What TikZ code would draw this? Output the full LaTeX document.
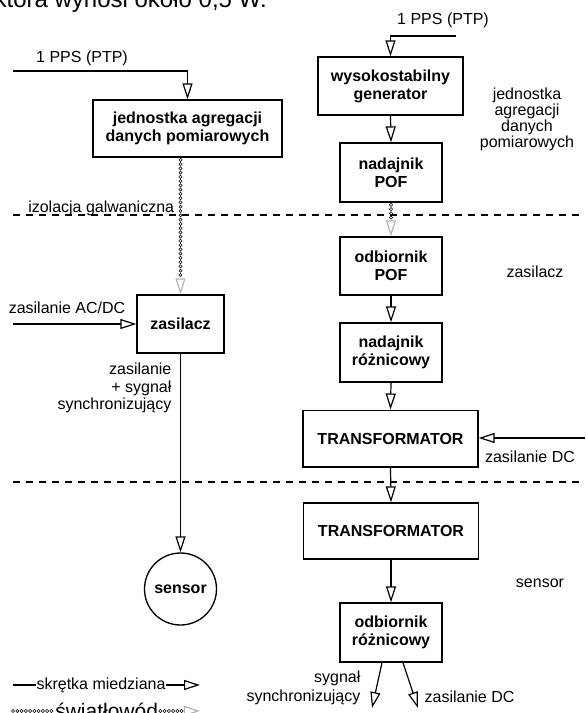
\documentclass[tikz,border=0pt]{standalone}
\usepackage{fontspec}
\setmainfont{Liberation Sans}
\usepackage{xcolor}
\usetikzlibrary{arrows.meta,decorations.markings}
\definecolor{fiberGray}{HTML}{B4B4B4}
\tikzset{
  font=\fontsize{12}{13.5}\selectfont,
  wire/.style={-{Triangle[open,length=12pt,width=7.5pt]}, draw=black, line width=0.9pt},
  plainWire/.style={draw=black, line width=0.9pt},
  fiberChain/.style={postaction={decorate}, decoration={markings,
      mark=between positions 0 and 1 step 3.2pt with {\draw[black, line width=0.4pt, fill=white] (0,0) circle (1.2pt);}}},
  fiber/.style={postaction={decorate}, decoration={markings,
      mark=between positions 1.6pt and -12.5pt step 3.2pt with {\draw[black, line width=0.4pt, fill=white] (0,0) circle (1.2pt);},
      mark=at position 1 with {\arrow[fiberGray, line width=0.9pt]{Triangle[open,length=12pt,width=7.5pt]}}}},
  boundary/.style={draw=black, line width=0.8pt, dash pattern=on 5.25pt off 4.5pt},
  block/.style={rectangle, draw=black, line width=1pt, fill=white, minimum width=76.5pt, minimum height=43.5pt, align=center, inner sep=2pt, font=\fontsize{12}{13.5}\selectfont\bfseries},
  wideBlock/.style={block, minimum width=131.25pt, minimum height=42.5pt},
  sensorNode/.style={circle, draw=black, line width=1pt, fill=white, minimum size=54pt, inner sep=0pt, font=\fontsize{12}{13.5}\selectfont\bfseries},
  sideText/.style={align=center, inner sep=1pt, font=\fontsize{12}{12}\selectfont},
  wireText/.style={inner sep=1pt, font=\fontsize{12}{13.5}\selectfont}
}
\begin{document}
\begin{tikzpicture}[x=0.75pt,y=-0.75pt]
\useasboundingbox (0,0) rectangle (585,713);

% --------------------------------------------------------------------------
% text of the page above the figure
% --------------------------------------------------------------------------
\node[anchor=base east, inner sep=0pt, font=\fontsize{18}{20}\selectfont] (pageLine) at (267,7.5) {która wynosi około 0,5 W.};

% --------------------------------------------------------------------------
% isolation boundaries
% --------------------------------------------------------------------------
\coordinate (isoTopL) at (13,215);
\coordinate (isoTopR) at (585,215);
\coordinate (isoBotL) at (13,482);
\coordinate (isoBotR) at (585,482);
\draw[boundary] (isoTopL) -- (isoTopR);
\draw[boundary] (isoBotL) -- (isoBotR);
\node[anchor=base west, inner sep=0pt] (isoText) at (28,212) {izolacja galwaniczna};

% --------------------------------------------------------------------------
% left column
% --------------------------------------------------------------------------
\node[block, minimum width=141.75pt, minimum height=42.75pt] (lAgg) at (187.5,128.5) {jednostka agregacji\\danych pomiarowych};
\node[block, minimum width=65.25pt] (lPsu) at (180.5,324) {zasilacz};
\node[sensorNode] (lSensor) at (180.5,589) {sensor};

\node[wireText] (lPpsText) at (82,58) {1 PPS (PTP)};
\coordinate (lPpsIn) at (13,71);
\draw[wire] (lPpsIn) -| (lAgg.north);

\path[fiber] (lPsu.north |- lAgg.south) -- (lPsu.north);

\node[wireText] (lAcText) at (67,308) {zasilanie AC/DC};
\coordinate (lAcIn) at (13,324);
\draw[wire] (lAcIn) -- (lPsu.west);

\draw[wire] (lPsu.south) -- (lSensor.north);
\node[sideText, align=right, anchor=east] (lSupText) at (173,388) {zasilanie\\[1pt]+ sygnał\\[1pt]synchronizujący};

% --------------------------------------------------------------------------
% right column
% --------------------------------------------------------------------------
\node[block, minimum width=108.75pt] (rGen) at (390.5,86) {wysokostabilny\\generator};
\node[block, minimum height=44.25pt] (rTxPof) at (391,172.5) {nadajnik\\POF};
\node[block] (rRxPof) at (391,266) {odbiornik\\POF};
\node[block, minimum height=44.25pt] (rTxDiff) at (391,352.5) {nadajnik\\różnicowy};
\node[wideBlock] (rTrafoA) at (390.5,438.5) {TRANSFORMATOR};
\node[wideBlock, minimum height=42pt] (rTrafoB) at (391,531) {TRANSFORMATOR};
\node[block, minimum height=44.25pt] (rRxDiff) at (391,632.5) {odbiornik\\różnicowy};

\node[wireText] (rPpsText) at (443,20) {1 PPS (PTP)};
\coordinate (rPpsIn) at (456,36);
\draw[wire] (rPpsIn) -| (rGen.north);

\draw[wire] (rGen.south) -- (rTxPof.north);
\path[fiber] (rTxPof.south) -- (rRxPof.north);
\draw[wire] (rRxPof.south) -- (rTxDiff.north);
\draw[wire] (rTxDiff.south) -- (rTrafoA.north);
\draw[wire] (rTrafoA.south) -- (rTrafoB.north);
\draw[wire] (rTrafoB.south) -- (rRxDiff.north);

\coordinate (rDcIn) at (585,438);
\draw[wire] (rDcIn) -- (rTrafoA.east |- rDcIn);
\node[wireText] (rDcText) at (530,457) {zasilanie DC};

% outputs of the differential receiver
\coordinate (rSyncOut) at (372,708);
\coordinate (rDcOut) at (418,708);
\draw[wire] ([xshift=-6.75pt]rRxDiff.south) -- (rSyncOut);
\draw[wire] ([xshift=9pt]rRxDiff.south) -- (rDcOut);
\node[sideText, align=right, anchor=east] (rSyncText) at (362,688) {sygnał\\[2pt]synchronizujący};
\node[wireText, anchor=west] (rDcOutText) at (423,697) {zasilanie DC};

% side captions
\node[sideText] (capAgg) at (527,119) {jednostka\\agregacji\\danych\\pomiarowych};
\node[sideText] (capPsu) at (535,272) {zasilacz};
\node[sideText] (capSensor) at (540,583) {sensor};

% --------------------------------------------------------------------------
% legend
% --------------------------------------------------------------------------
\node[wireText, inner sep=0.5pt] (lgCopper) at (101,685) {skrętka miedziana};
\coordinate (lgCopperA) at (13,685);
\coordinate (lgCopperB) at (200,685);
\draw[plainWire] (lgCopperA) -- (lgCopper.west);
\draw[wire] (lgCopper.east) -- (lgCopperB);

\node[anchor=base west, inner sep=0pt, font=\fontsize{15.75}{17}\selectfont] (lgFiber) at (55,718) {światłowód};
\coordinate (lgFiberA) at (13,711);
\coordinate (lgFiberB) at (200,711);
\path[fiberChain] (lgFiberA) -- (lgFiber.west |- lgFiberA);
\path[fiber] (lgFiber.east |- lgFiberB) -- (lgFiberB);

\end{tikzpicture}
\end{document}
